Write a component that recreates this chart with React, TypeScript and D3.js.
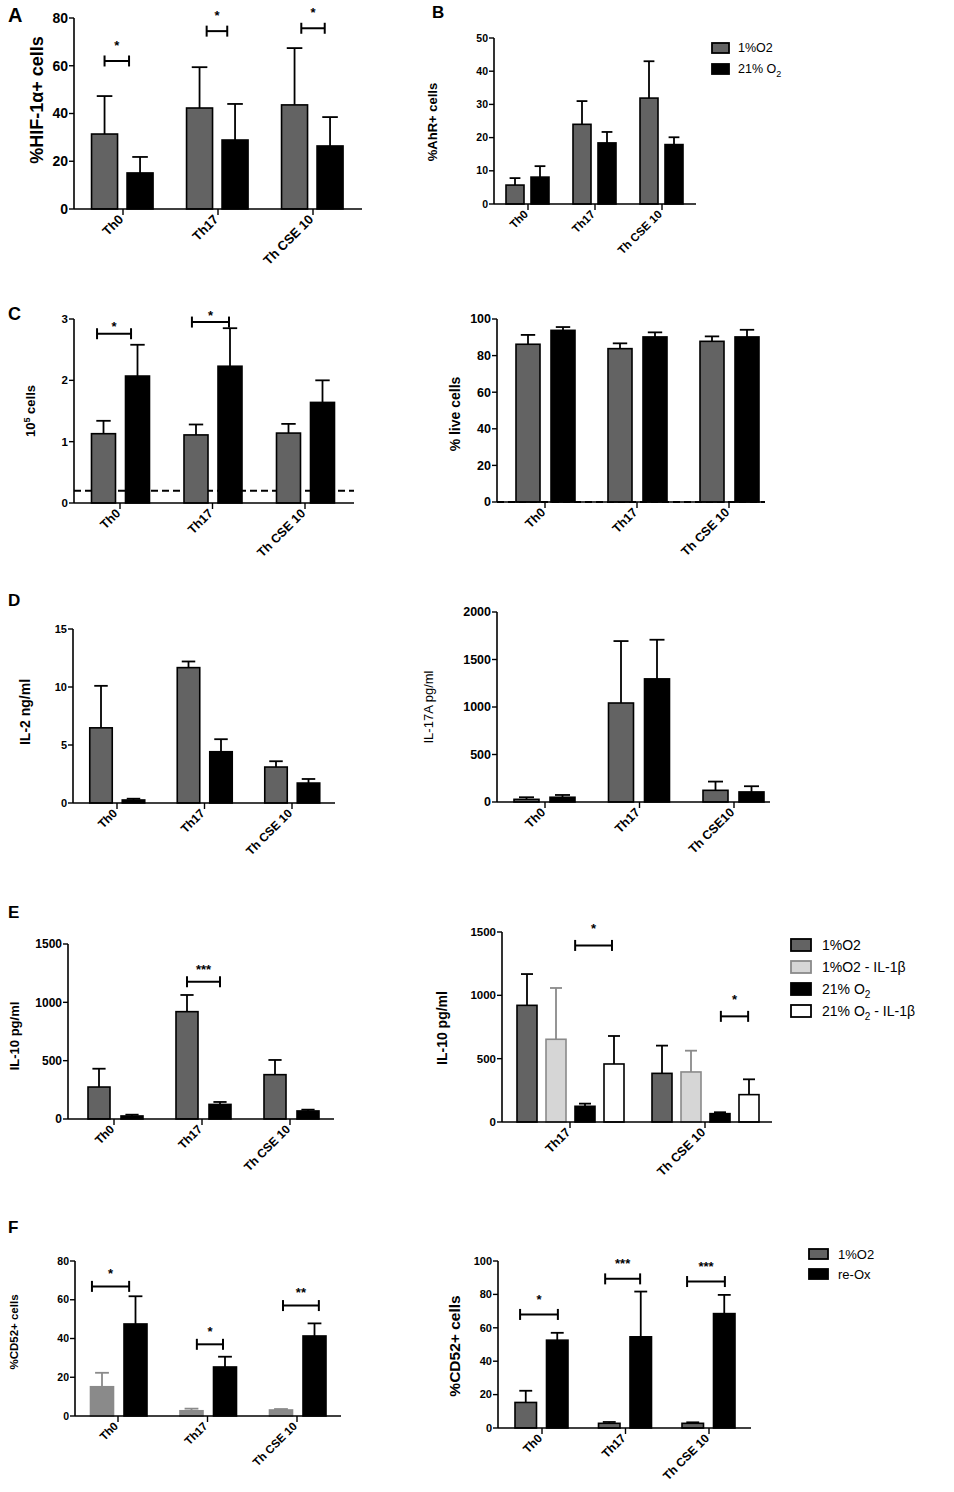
import React from 'react';
import * as d3 from 'd3';

// ---- data ----
const groups = ['Th0', 'Th17', 'Th CSE 10'];
const groupsIL17 = ['Th0', 'Th17', 'Th CSE10'];
const groupsIL10b = ['Th17', 'Th CSE 10'];

// A: %HIF-1a+ cells
const hifTicks = [0, 20, 40, 60, 80];
const hifHypMean = [31.4, 42.3, 43.6];
const hifHypSem = [15.9, 17.1, 23.8];
const hifNormMean = [15.1, 28.9, 26.4];
const hifNormSem = [6.7, 15.1, 12.1];
const hifSig = [
  { g: 0, y: 62, from: 0, to: 0.69, label: '*' },
  { g: 1, y: 74.5, from: 0.2, to: 0.78, label: '*' },
  { g: 2, y: 75.7, from: 0.19, to: 0.85, label: '*' },
];

// B: %AhR+ cells
const ahrTicks = [0, 10, 20, 30, 40, 50];
const ahrHypMean = [5.7, 24.0, 31.9];
const ahrHypSem = [2.1, 7.0, 11.1];
const ahrNormMean = [8.1, 18.4, 17.9];
const ahrNormSem = [3.3, 3.3, 2.2];

// C left: 10^5 cells
const cellTicks = [0, 1, 2, 3];
const cellHypMean = [1.13, 1.11, 1.14];
const cellHypSem = [0.21, 0.17, 0.15];
const cellNormMean = [2.07, 2.23, 1.64];
const cellNormSem = [0.51, 0.62, 0.36];
const cellCutoff = 0.2;
const cellSig = [
  { g: 0, y: 2.76, from: -0.19, to: 0.81, label: '*' },
  { g: 1, y: 2.95, from: -0.12, to: 0.97, label: '*' },
];

// C right: % live cells
const liveTicks = [0, 20, 40, 60, 80, 100];
const liveHypMean = [86.2, 83.8, 87.8];
const liveHypSem = [5.1, 2.9, 2.7];
const liveNormMean = [93.8, 90.2, 90.2];
const liveNormSem = [1.8, 2.5, 3.9];
const liveCutoff = 0;

// D left: IL-2 ng/ml
const il2Ticks = [0, 5, 10, 15];
const il2HypMean = [6.48, 11.67, 3.1];
const il2HypSem = [3.62, 0.53, 0.5];
const il2NormMean = [0.26, 4.42, 1.72];
const il2NormSem = [0.11, 1.08, 0.35];

// D right: IL-17A pg/ml
const il17Ticks = [0, 500, 1000, 1500, 2000];
const il17HypMean = [28, 1042, 123];
const il17HypSem = [22, 652, 92];
const il17NormMean = [50, 1296, 106];
const il17NormSem = [24, 412, 60];

// E left: IL-10 pg/ml
const il10Ticks = [0, 500, 1000, 1500];
const il10HypMean = [274, 920, 380];
const il10HypSem = [157, 143, 126];
const il10NormMean = [26, 125, 69];
const il10NormSem = [11, 21, 11];
const il10Sig = [{ g: 1, y: 1176, from: 0, to: 1, label: '***' }];

// E right: IL-10 pg/ml with IL-1b
const il10bHypMean = [921, 384];
const il10bHypSem = [247, 219];
const il10bHypIlMean = [653, 395];
const il10bHypIlSem = [405, 168];
const il10bNormMean = [124, 66];
const il10bNormSem = [21, 11];
const il10bNormIlMean = [458, 216];
const il10bNormIlSem = [221, 121];
const il10bSig = [
  { g: 0, y: 1394, from: 1.66, to: 2.93, label: '*' },
  { g: 1, y: 834, from: 2.03, to: 2.97, label: '*' },
];

// F left / right: %CD52+ cells
const cd52aTicks = [0, 20, 40, 60, 80];
const cd52aHypMean = [15.1, 2.7, 3.1];
const cd52aHypSem = [7.2, 1.1, 0.5];
const cd52aReoxMean = [47.5, 25.3, 41.3];
const cd52aReoxSem = [14.3, 5.3, 6.5];
const cd52aSig = [
  { g: 0, y: 66.9, from: -0.3, to: 0.81, label: '*' },
  { g: 1, y: 37, from: 0.16, to: 0.94, label: '*' },
  { g: 2, y: 57, from: 0.06, to: 1.13, label: '**' },
];

const cd52bTicks = [0, 20, 40, 60, 80, 100];
const cd52bHypMean = [15.3, 2.8, 2.8];
const cd52bHypSem = [7.0, 0.8, 0.6];
const cd52bReoxMean = [52.6, 54.6, 68.5];
const cd52bReoxSem = [4.4, 27.1, 11.2];
const cd52bSig = [
  { g: 0, y: 68, from: -0.18, to: 1.02, label: '*' },
  { g: 1, y: 89.3, from: -0.13, to: 0.98, label: '***' },
  { g: 2, y: 87.7, from: -0.18, to: 1.02, label: '***' },
];

// ---- styles ----
const FONT = '"Liberation Sans", Arial, Helvetica, sans-serif';
const GREY = '#636363';
const LIGHT = '#d6d6d6';
const MIDGREY = '#8a8a8a';

type Series = { mean: number[]; sem: number[]; fill: string; stroke: string; err: string };
type Sig = { g: number; y: number; from: number; to: number; label: string };

interface PanelProps {
  groups: string[];
  series: Series[];
  ticks: number[];
  x0: number; x1: number; c0: number; c1: number; yTop: number; yBot: number;
  barW: number; step: number; shift?: number;
  tickSize: number; catSize: number;
  yLabel: React.ReactNode; yLabelX: number; yLabelY: number; yLabelSize: number; yLabelWeight?: string;
  sigs?: Sig[]; starGap?: number;
  dashed?: number;
}

const Panel: React.FC<PanelProps> = (p) => {
  const y = d3.scaleLinear().domain([0, p.ticks[p.ticks.length - 1]]).range([p.yBot, p.yTop]);
  const x = d3.scalePoint().domain(p.groups).range([p.c0, p.c1]);
  const n = p.series.length;
  const shift = p.shift ?? 0;
  const barX = (g: string, i: number) => (x(g) as number) + shift + (i - (n - 1) / 2) * p.step;
  const cap = p.barW * 0.6;

  return (
    <g fontFamily={FONT}>
      {p.dashed !== undefined && (
        <line x1={p.x0} x2={p.x1} y1={y(p.dashed)} y2={y(p.dashed)}
          stroke="#000" strokeWidth={2.2} strokeDasharray="7 4" />
      )}
      {p.series.map((s, i) => (
        <g key={i}>
          {p.groups.map((g, gi) => {
            const cx = barX(g, i);
            const top = y(s.mean[gi] + s.sem[gi]);
            return (
              <g key={g}>
                <line x1={cx} x2={cx} y1={y(s.mean[gi])} y2={top} stroke={s.err} strokeWidth={1.8} />
                <line x1={cx - cap / 2} x2={cx + cap / 2} y1={top} y2={top} stroke={s.err} strokeWidth={1.8} />
                <rect x={cx - p.barW / 2} y={y(s.mean[gi])} width={p.barW}
                  height={y(0) - y(s.mean[gi])} fill={s.fill} stroke={s.stroke} strokeWidth={1.6} />
              </g>
            );
          })}
        </g>
      ))}
      {/* axes */}
      <line x1={p.x0} x2={p.x0} y1={p.yTop} y2={p.yBot} stroke="#000" strokeWidth={1.6} />
      <line x1={p.x0} x2={p.x1} y1={p.yBot} y2={p.yBot} stroke="#000" strokeWidth={1.6} />
      {p.ticks.map((t) => (
        <g key={t} transform={`translate(${p.x0},${y(t)})`}>
          <line x1={-5} x2={0} stroke="#000" strokeWidth={1.4} />
          <text x={-6} dy="0.35em" textAnchor="end" fontSize={p.tickSize} fontWeight="bold">{t}</text>
        </g>
      ))}
      {p.groups.map((g) => (
        <g key={g} transform={`translate(${x(g)},${p.yBot})`}>
          <line y1={0} y2={6} stroke="#000" strokeWidth={1.4} />
          <text transform={`translate(-2,8) rotate(-45)`} dy="0.35em" textAnchor="end"
            fontSize={p.catSize} fontWeight="bold">{g}</text>
        </g>
      ))}
      <text transform={`translate(${p.yLabelX},${p.yLabelY}) rotate(-90)`} textAnchor="middle"
        dy="0.35em" fontSize={p.yLabelSize} fontWeight={p.yLabelWeight ?? 'bold'}>{p.yLabel}</text>
      {(p.sigs ?? []).map((s, k) => {
        const g = p.groups[s.g];
        const xa = barX(g, s.from);
        const xb = barX(g, s.to);
        const yy = y(s.y);
        const starY = yy - (p.starGap ?? 16) + 0.58 * 13;
        return (
          <g key={k} stroke="#000" strokeWidth={2}>
            <line x1={xa} x2={xb} y1={yy} y2={yy} />
            <line x1={xa} x2={xa} y1={yy - 5.5} y2={yy + 5.5} />
            <line x1={xb} x2={xb} y1={yy - 5.5} y2={yy + 5.5} />
            <text x={(xa + xb) / 2} y={starY} textAnchor="middle" fontSize={13}
              fontWeight="bold" stroke="none" fill="#000">{s.label}</text>
          </g>
        );
      })}
    </g>
  );
};

type LegendItem = { label: React.ReactNode; fill: string; stroke: string };
interface LegendProps {
  items: LegendItem[]; x: number; y: number; rowH: number; swW: number; swH: number; textX: number; size: number;
}
const Legend: React.FC<LegendProps> = (l) => (
  <g fontFamily={FONT}>
    {l.items.map((it, i) => {
      const cy = l.y + i * l.rowH;
      return (
        <g key={i}>
          <rect x={l.x} y={cy - l.swH / 2} width={l.swW} height={l.swH} fill={it.fill} stroke={it.stroke} strokeWidth={1.8} />
          <text x={l.textX} y={cy} dy="0.35em" fontSize={l.size}>{it.label}</text>
        </g>
      );
    })}
  </g>
);

const O2 = (pre: string, post = '') => (
  <>
    <tspan>{pre}O</tspan>
    <tspan dy="4" fontSize="0.72em">2</tspan>
    {post && <tspan dy="-4">{post}</tspan>}
  </>
);

const Letter: React.FC<{ x: number; y: number; size: number; t: string }> = ({ x, y, size, t }) => (
  <text x={x} y={y} fontFamily={FONT} fontWeight="bold" fontSize={size}>{t}</text>
);

const s2 = (hm: number[], hs: number[], nm: number[], ns: number[]): Series[] => [
  { mean: hm, sem: hs, fill: GREY, stroke: '#000', err: '#000' },
  { mean: nm, sem: ns, fill: '#000', stroke: '#000', err: '#000' },
];

export default function App() {
  return (
    <svg width={954} height={1492} style={{ position: 'absolute', left: 0, top: 0, background: '#fff' }}>
      <rect width={954} height={1492} fill="#fff" />
      <Letter x={8} y={22} size={20} t="A" />
      <Panel groups={groups} series={s2(hifHypMean, hifHypSem, hifNormMean, hifNormSem)} ticks={hifTicks}
        x0={74} x1={362} c0={123} c1={313} yTop={18} yBot={209} barW={26} step={35.5} shift={-0.7}
        tickSize={14} catSize={13} yLabel="%HIF-1α+ cells" yLabelX={37} yLabelY={100} yLabelSize={18}
        sigs={hifSig} starGap={19} />

      <Letter x={432} y={18} size={17} t="B" />
      <Panel groups={groups} series={s2(ahrHypMean, ahrHypSem, ahrNormMean, ahrNormSem)} ticks={ahrTicks}
        x0={494} x1={696} c0={528} c1={662} yTop={38} yBot={204} barW={18} step={25} shift={-0.5}
        tickSize={10.5} catSize={11.5} yLabel="%AhR+ cells" yLabelX={432} yLabelY={122} yLabelSize={13} />
      <Legend x={712} y={48} rowH={21} swW={17} swH={10} textX={738} size={12.5}
        items={[{ label: '1%O2', fill: GREY, stroke: '#000' }, { label: O2('21% '), fill: '#000', stroke: '#000' }]} />

      <Letter x={8} y={320} size={18} t="C" />
      <Panel groups={groups} series={s2(cellHypMean, cellHypSem, cellNormMean, cellNormSem)} ticks={cellTicks}
        x0={74} x1={354} c0={120} c1={305} yTop={319} yBot={503} barW={24} step={34} shift={0.5}
        tickSize={11.5} catSize={12.5}
        yLabel={<><tspan>10</tspan><tspan dy="-5" fontSize="0.7em">5</tspan><tspan dy="5"> cells</tspan></>}
        yLabelX={30} yLabelY={411} yLabelSize={13} sigs={cellSig} starGap={10} dashed={cellCutoff} />
      <Panel groups={groups} series={s2(liveHypMean, liveHypSem, liveNormMean, liveNormSem)} ticks={liveTicks}
        x0={497} x1={765} c0={545} c1={729} yTop={319} yBot={502} barW={24} step={35} shift={0.5}
        tickSize={12.5} catSize={12.5} yLabel="% live cells" yLabelX={455} yLabelY={414} yLabelSize={14}
        dashed={liveCutoff} />

      <Letter x={8} y={606} size={17} t="D" />
      <Panel groups={groups} series={s2(il2HypMean, il2HypSem, il2NormMean, il2NormSem)} ticks={il2Ticks}
        x0={73} x1={335} c0={117} c1={292} yTop={629} yBot={803} barW={22.5} step={32.5} shift={0.25}
        tickSize={11} catSize={12} yLabel="IL-2 ng/ml" yLabelX={25} yLabelY={712} yLabelSize={14} />
      <Panel groups={groupsIL17} series={s2(il17HypMean, il17HypSem, il17NormMean, il17NormSem)} ticks={il17Ticks}
        x0={497} x1={770} c0={545} c1={734} yTop={612} yBot={802} barW={25} step={36} shift={-0.5}
        tickSize={12.5} catSize={12.5} yLabel="IL-17A pg/ml" yLabelX={428} yLabelY={707} yLabelSize={13}
        yLabelWeight="normal" />

      <Letter x={8} y={918} size={17} t="E" />
      <Panel groups={groups} series={s2(il10HypMean, il10HypSem, il10NormMean, il10NormSem)} ticks={il10Ticks}
        x0={68} x1={334} c0={114} c1={290} yTop={944} yBot={1119} barW={22} step={33} shift={1.5}
        tickSize={12} catSize={12} yLabel="IL-10 pg/ml" yLabelX={14} yLabelY={1036} yLabelSize={13}
        sigs={il10Sig} starGap={15} />
      <Panel groups={groupsIL10b}
        series={[
          { mean: il10bHypMean, sem: il10bHypSem, fill: GREY, stroke: '#000', err: '#000' },
          { mean: il10bHypIlMean, sem: il10bHypIlSem, fill: LIGHT, stroke: MIDGREY, err: MIDGREY },
          { mean: il10bNormMean, sem: il10bNormSem, fill: '#000', stroke: '#000', err: '#000' },
          { mean: il10bNormIlMean, sem: il10bNormIlSem, fill: '#fff', stroke: '#000', err: '#000' },
        ]}
        ticks={il10Ticks}
        x0={502} x1={772} c0={570} c1={705} yTop={932} yBot={1122} barW={20} step={29} shift={0.5}
        tickSize={11.5} catSize={12.5} yLabel="IL-10 pg/ml" yLabelX={442} yLabelY={1028} yLabelSize={14}
        sigs={il10bSig} starGap={20} />
      <Legend x={791} y={945} rowH={22} swW={20} swH={12} textX={822} size={14}
        items={[
          { label: '1%O2', fill: GREY, stroke: '#000' },
          { label: '1%O2 - IL-1β', fill: LIGHT, stroke: MIDGREY },
          { label: O2('21% '), fill: '#000', stroke: '#000' },
          { label: O2('21% ', ' - IL-1β'), fill: '#fff', stroke: '#000' },
        ]} />

      <Letter x={8} y={1233} size={17} t="F" />
      <Panel groups={groups}
        series={[
          { mean: cd52aHypMean, sem: cd52aHypSem, fill: MIDGREY, stroke: MIDGREY, err: MIDGREY },
          { mean: cd52aReoxMean, sem: cd52aReoxSem, fill: '#000', stroke: '#000', err: '#000' },
        ]}
        ticks={cd52aTicks}
        x0={75} x1={341} c0={118} c1={297} yTop={1261} yBot={1416} barW={23} step={33.5} shift={0.75}
        tickSize={10.5} catSize={11.5} yLabel="%CD52+ cells" yLabelX={14} yLabelY={1332} yLabelSize={11.5}
        sigs={cd52aSig} starGap={16} />
      <Panel groups={groups} series={s2(cd52bHypMean, cd52bHypSem, cd52bReoxMean, cd52bReoxSem)} ticks={cd52bTicks}
        x0={498} x1={751} c0={542} c1={709} yTop={1261} yBot={1428} barW={21.5} step={31.5} shift={-0.5}
        tickSize={11} catSize={12} yLabel="%CD52+ cells" yLabelX={455} yLabelY={1346} yLabelSize={15.5}
        sigs={cd52bSig} starGap={18} />
      <Legend x={809} y={1254} rowH={20} swW={19} swH={10} textX={838} size={13}
        items={[{ label: '1%O2', fill: GREY, stroke: '#000' }, { label: 're-Ox', fill: '#000', stroke: '#000' }]} />
    </svg>
  );
}
